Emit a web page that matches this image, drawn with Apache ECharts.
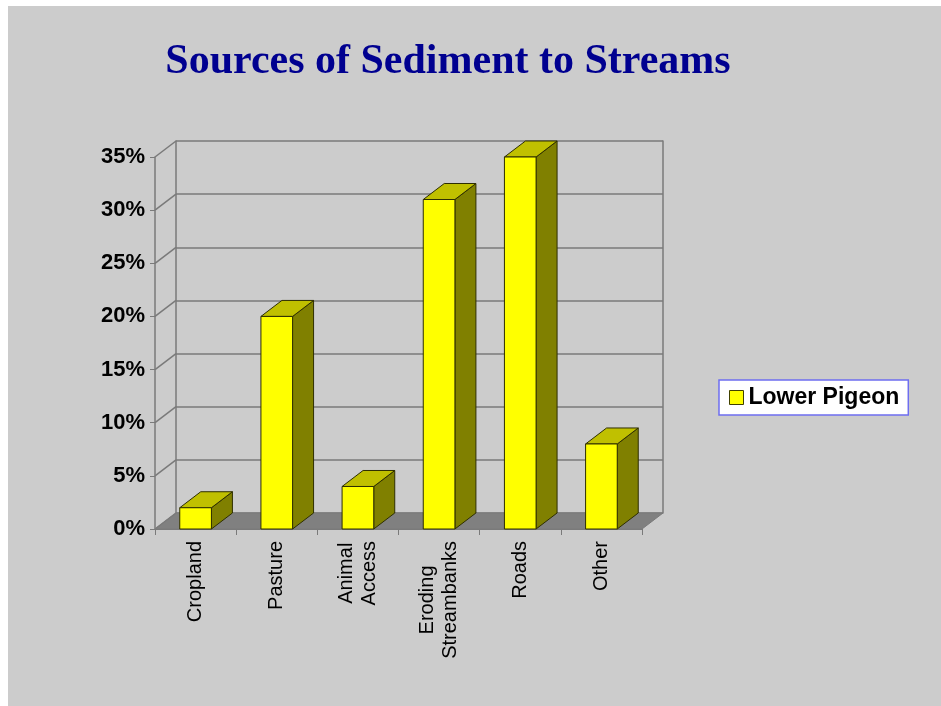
<!DOCTYPE html>
<html>
<head>
<meta charset="utf-8">
<script src="https://cdn.jsdelivr.net/npm/echarts@6/dist/echarts.min.js"></script>
<style>
html, body { margin: 0; padding: 0; background: #fff; }
#chart { width: 941px; height: 706px; }
</style>
</head>
<body>
<div id="chart"></div>
<script>
var categories = ['Cropland', 'Pasture', 'Animal\nAccess', 'Eroding\nStreambanks', 'Roads', 'Other'];
var seriesName = 'Lower Pigeon';
var values = [2, 20, 4, 31, 35, 8];
var yTicks = [0, 5, 10, 15, 20, 25, 30, 35];

// front plane of the 3d box and the depth offset to the back wall
var front = { left: 155, top: 157, width: 487, height: 372 };
var depth = [21, -16];
var back = { left: front.left + depth[0], top: front.top + depth[1], width: front.width, height: front.height };

var font = 'Liberation Sans, Arial, sans-serif';
var lineColor = '#7a7a7a';

function renderFloor(params, api) {
    var cs = params.coordSys;
    var y0 = api.coord([0, 0])[1];
    var dx = depth[0], dy = depth[1];
    return {
        type: 'polygon',
        shape: { points: [[cs.x, y0], [cs.x + cs.width, y0], [cs.x + cs.width + dx, y0 + dy], [cs.x + dx, y0 + dy]] },
        style: { fill: '#808080', stroke: lineColor, lineWidth: 1 }
    };
}

function renderWallLine(params, api) {
    var cs = params.coordSys;
    var y = api.coord([0, api.value(1)])[1];
    return {
        type: 'line',
        shape: { x1: cs.x, y1: y, x2: cs.x + depth[0], y2: y + depth[1] },
        style: { stroke: lineColor, lineWidth: 1.5 }
    };
}

function renderBar(params, api) {
    var base = api.coord([api.value(0), 0]);
    var top = api.coord([api.value(0), api.value(1)]);
    var w = api.size([1, 0])[0] * 0.39;
    var x0 = base[0] - w / 2, x1 = base[0] + w / 2;
    var yb = base[1], yt = top[1];
    var dx = depth[0], dy = depth[1];
    var edge = { stroke: '#2e2e00', lineWidth: 1, lineJoin: 'round' };
    return {
        type: 'group',
        children: [
            { type: 'polygon', shape: { points: [[x1, yb], [x1, yt], [x1 + dx, yt + dy], [x1 + dx, yb + dy]] },
              style: Object.assign({ fill: '#808000' }, edge) },
            { type: 'polygon', shape: { points: [[x0, yt], [x1, yt], [x1 + dx, yt + dy], [x0 + dx, yt + dy]] },
              style: Object.assign({ fill: '#c0c000' }, edge) },
            { type: 'rect', shape: { x: x0, y: yt, width: w, height: yb - yt },
              style: Object.assign({ fill: '#ffff00' }, edge) }
        ]
    };
}

var yMin = yTicks[0], yMax = yTicks[yTicks.length - 1], yStep = yTicks[1] - yTicks[0];

var chart = echarts.init(document.getElementById('chart'));
chart.setOption({
    animation: false,
    backgroundColor: '#ffffff',
    graphic: [{
        type: 'rect', left: 8, top: 6, z: -10,
        shape: { width: 933, height: 700 },
        style: { fill: '#cccccc' }
    }],
    title: {
        text: 'Sources of Sediment to Streams',
        left: 448, top: 41, padding: 0, textAlign: 'center',
        textStyle: { fontFamily: 'Liberation Serif, Times New Roman, serif', fontWeight: 'bold', fontSize: 42, color: '#000090' }
    },
    legend: {
        data: [seriesName],
        left: 719, top: 380,
        orient: 'vertical',
        padding: [6, 9, 6, 10],
        backgroundColor: '#ffffff',
        borderColor: '#6e6ef0', borderWidth: 1.5, borderRadius: 0,
        icon: 'rect', itemWidth: 14, itemHeight: 14, itemGap: 0,
        itemStyle: { borderColor: '#404000', borderWidth: 1 },
        textStyle: { fontFamily: font, fontWeight: 'bold', fontSize: 23, color: '#000' }
    },
    grid: [
        { left: front.left, top: front.top, width: front.width, height: front.height },
        { left: back.left, top: back.top, width: back.width, height: back.height }
    ],
    xAxis: [{
        gridIndex: 0, type: 'category', data: categories,
        axisLine: { show: true, lineStyle: { color: lineColor, width: 1 } },
        axisTick: { show: true, interval: 0, length: 6, lineStyle: { color: lineColor } },
        axisLabel: {
            interval: 0, rotate: 90, margin: 12, color: '#000',
            formatter: function (v) {
                return v.split('\n').map(function (s) { return '{c|' + s + '}'; }).join('\n');
            },
            rich: { c: { align: 'center', fontFamily: font, fontSize: 20, lineHeight: 23, color: '#000' } }
        },
        splitLine: { show: false }
    }, {
        gridIndex: 1, type: 'category', data: categories,
        axisLine: { show: false }, axisTick: { show: false }, axisLabel: { show: false }
    }],
    yAxis: [{
        gridIndex: 0, type: 'value', min: yMin, max: yMax, interval: yStep,
        axisLine: { show: true, lineStyle: { color: lineColor, width: 1.5 } },
        axisTick: { show: true, length: 5, lineStyle: { color: lineColor } },
        axisLabel: { formatter: '{value}%', margin: 10, fontFamily: font, fontWeight: 'bold', fontSize: 22, color: '#000' },
        splitLine: { show: false }
    }, {
        gridIndex: 1, type: 'value', min: yMin, max: yMax, interval: yStep,
        axisLine: { show: true, lineStyle: { color: lineColor, width: 1.5 } },
        axisTick: { show: false }, axisLabel: { show: false },
        splitLine: { show: true, lineStyle: { color: lineColor, width: 1.5 } }
    }, {
        gridIndex: 1, type: 'value', position: 'right', min: yMin, max: yMax, interval: yStep,
        axisLine: { show: true, lineStyle: { color: lineColor, width: 1.5 } },
        axisTick: { show: false }, axisLabel: { show: false }, splitLine: { show: false }
    }],
    series: [{
        name: 'floor', type: 'custom', xAxisIndex: 0, yAxisIndex: 0,
        renderItem: renderFloor, data: [[0, 0]], silent: true
    }, {
        name: 'wall', type: 'custom', xAxisIndex: 0, yAxisIndex: 0,
        renderItem: renderWallLine, data: yTicks.map(function (v) { return [0, v]; }), silent: true
    }, {
        name: seriesName, type: 'custom', xAxisIndex: 0, yAxisIndex: 0,
        itemStyle: { color: '#ffff00' },
        renderItem: renderBar,
        data: values.map(function (v, i) { return [i, v]; })
    }]
});
</script>
</body>
</html>
